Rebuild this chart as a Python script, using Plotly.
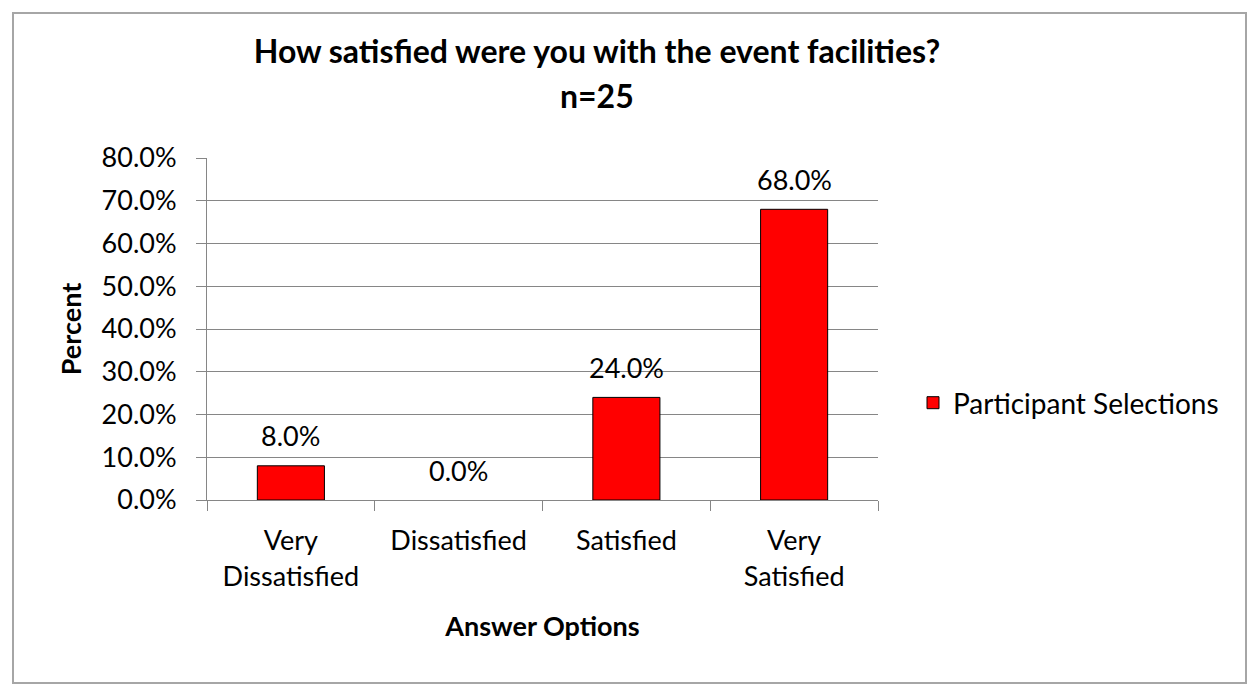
import plotly.graph_objects as go

categories = ["Very<br>Dissatisfied", "Dissatisfied", "Satisfied", "Very<br>Satisfied"]
values = [0.08, 0.0, 0.24, 0.68]
series_name = "Participant Selections"
title_line1 = "How satisfied were you with the event facilities?"
title_line2 = "n=25"
y_title = "Percent"
x_title = "Answer Options"

W, H = 1260, 688
L, R, T, B = 207, 878, 158, 500

def px_x(p):
    return (p - L) / (R - L)

def px_y(p):
    return (B - p) / (B - T)

FONT = "Lato"
TXT = 27

fig = go.Figure()
fig.add_trace(go.Bar(
    x=categories, y=values, name=series_name,
    marker=dict(color="#ff0000",
                line=dict(color="#000000", width=[1 if v > 0 else 0 for v in values])),
    width=0.4,
    showlegend=True,
))

# data labels
for c, v in zip(categories, values):
    fig.add_annotation(x=c, y=v, xref="x", yref="y", text=f"{v*100:.1f}%",
                       showarrow=False, yanchor="middle", yshift=30,
                       font=dict(family=FONT, size=TXT, color="#000000"))

fig.update_layout(
    width=W, height=H,
    margin=dict(l=L, r=W - R, t=T, b=H - B),
    paper_bgcolor="#ffffff", plot_bgcolor="#ffffff",
    font=dict(family=FONT, color="#000000"),
    title=dict(text="<b>" + title_line1 + "</b>", x=597 / W, xanchor="center",
               y=1 - 52 / H, yanchor="middle",
               font=dict(family=FONT, size=32, color="#000000")),
    showlegend=True,
    legend=dict(x=px_x(913), xanchor="left", y=px_y(403), yanchor="middle",
                font=dict(family=FONT, size=28, color="#000000"),
                bgcolor="rgba(0,0,0,0)", itemwidth=30),
)

fig.update_yaxes(
    range=[0, 0.8], dtick=0.1, tickformat=".1%",
    showgrid=True, gridcolor="#868686", gridwidth=1,
    showline=True, linecolor="#868686", linewidth=1,
    ticks="outside", ticklen=10, tickcolor="#868686",
    tickfont=dict(family=FONT, size=TXT, color="#000000"),
    ticklabelstandoff=14,
    zeroline=False,
    title=dict(text="<b>" + y_title + "</b>", font=dict(family=FONT, size=27, color="#000000"),
               standoff=12),
)
fig.update_xaxes(
    type="category", tickson="boundaries",
    showline=True, linecolor="#868686", linewidth=1,
    ticks="outside", ticklen=10, tickcolor="#868686",
    tickfont=dict(family=FONT, size=TXT, color="#000000"),
    ticklabelstandoff=17,
    title=dict(text="<b>" + x_title + "</b>", font=dict(family=FONT, size=27, color="#000000"),
               standoff=26),
)

fig.add_annotation(text="<b>" + title_line2 + "</b>", xref="paper", yref="paper",
                   x=px_x(597), y=px_y(95), xanchor="center", yanchor="middle",
                   showarrow=False, font=dict(family=FONT, size=32, color="#000000"))

# chart area border
fig.add_shape(type="rect", xref="paper", yref="paper",
              x0=px_x(13), x1=px_x(1246), y0=px_y(683), y1=px_y(13),
              line=dict(color="#a6a6a6", width=2), layer="below")

fig.write_html("out.html")
